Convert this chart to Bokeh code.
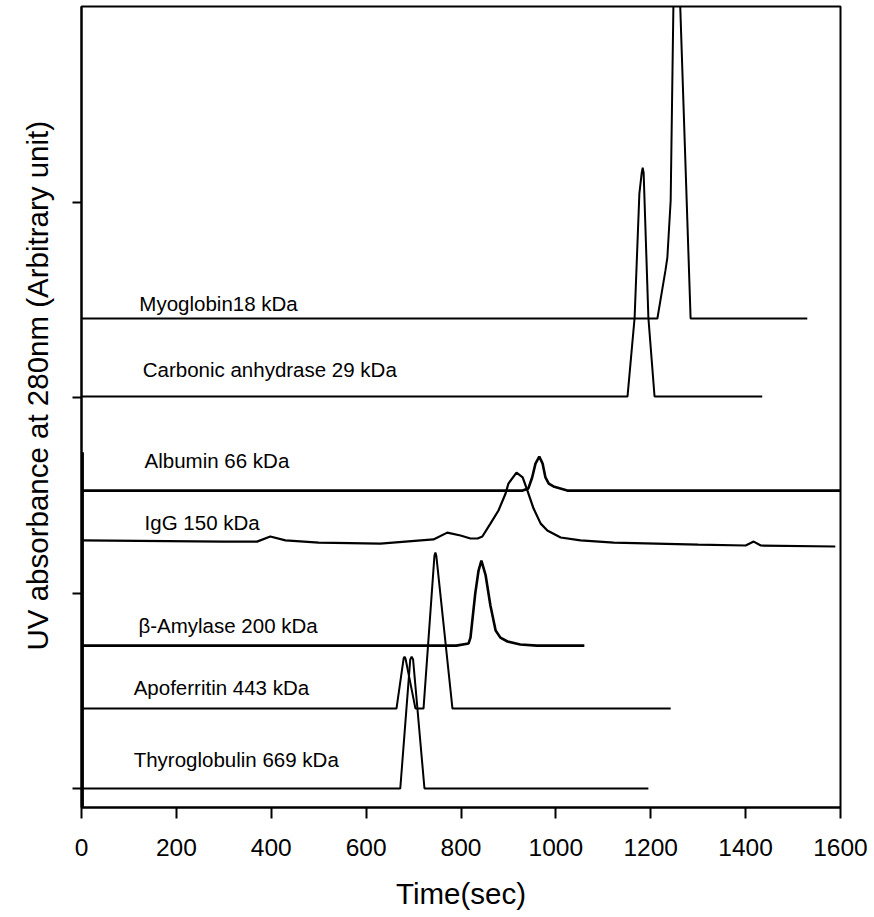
from bokeh.plotting import figure
from bokeh.models import Range1d, FixedTicker, Title
from bokeh.core.properties import value
from bokeh.embed import file_html
from bokeh.resources import INLINE

# ---- data (time in s, absorbance in arbitrary units; tick spacing = 1 unit) ----
x_ticks = [0, 200, 400, 600, 800, 1000, 1200, 1400, 1600]
y_ticks = [0, 1, 2, 3]

thyro_t = [0, 672, 693, 696, 699, 723, 1195]
thyro_a = [0.0, 0.0, 0.66, 0.675, 0.66, 0.0, 0.0]

apo_t = [0, 664, 679, 681, 683, 704, 721, 744, 746, 748, 782, 1242]
apo_a = [0.409, 0.409, 0.665, 0.675, 0.665, 0.409, 0.409, 1.19, 1.207, 1.19, 0.409, 0.409]

beta_t = [0, 790, 816, 820, 830, 837, 843, 852, 862, 873, 883, 898, 925, 960, 1060]
beta_a = [0.731, 0.731, 0.742, 0.772, 0.997, 1.115, 1.166, 1.090, 0.936, 0.808, 0.772,
          0.752, 0.737, 0.731, 0.731]

igg_t = [0, 300, 370, 398, 430, 500, 630, 742, 771, 799, 820, 835, 845, 862, 879, 894,
         900, 917, 930, 940, 953, 968, 982, 1010, 1052, 1122, 1300, 1400, 1417, 1432, 1589]
igg_a = [1.269, 1.263, 1.263, 1.289, 1.269, 1.258, 1.253, 1.274, 1.309, 1.294, 1.279,
         1.279, 1.289, 1.355, 1.422, 1.509, 1.560, 1.616, 1.591, 1.524, 1.432, 1.355,
         1.320, 1.284, 1.269, 1.258, 1.248, 1.243, 1.263, 1.243, 1.238]

alb_t = [0, 930, 942, 950, 957, 965, 972, 978, 985, 995, 1024, 1600]
alb_a = [1.524, 1.524, 1.535, 1.591, 1.662, 1.698, 1.662, 1.591, 1.560, 1.545, 1.524, 1.524]

car_t = [0, 1151, 1166, 1176, 1181, 1183, 1185, 1195, 1208, 1435]
car_a = [2.005, 2.005, 2.409, 3.043, 3.15, 3.176, 3.15, 2.409, 2.005, 2.005]

myo_t = [0, 1214, 1231, 1235, 1242, 1252, 1284, 1530]
myo_a = [2.404, 2.404, 2.650, 2.716, 3.008, 4.742, 2.404, 2.404]

inj_t = [3, 3]
inj_a = [-0.1, 1.72]

label_names = ["Myoglobin18 kDa", "Carbonic anhydrase 29 kDa", "Albumin 66 kDa",
               "IgG 150 kDa", "\u03b2-Amylase 200 kDa", "Apoferritin 443 kDa",
               "Thyroglobulin 669 kDa"]
label_t = [122, 129, 133, 133, 120, 110, 110]
label_a = [2.481, 2.143, 1.678, 1.361, 0.834, 0.517, 0.148]

FONT = "Liberation Sans"

p = figure(width=872, height=917,
           x_range=Range1d(0, 1600), y_range=Range1d(-0.097, 4.0),
           output_backend="svg", toolbar_location=None,
           min_border_left=81, min_border_right=32,
           min_border_top=6, min_border_bottom=110)
p.grid.visible = False
p.background_fill_color = "white"
p.border_fill_color = "white"
p.outline_line_color = "black"
p.outline_line_width = 2

xa = p.xaxis[0]
xa.ticker = FixedTicker(ticks=x_ticks)
xa.major_tick_out = 11
xa.major_tick_in = 0
xa.minor_tick_out = 0
xa.minor_tick_in = 0
xa.axis_line_width = 2
xa.major_tick_line_width = 2
xa.major_label_text_font = FONT
xa.major_label_text_font_size = "24.5px"
xa.major_label_text_color = "black"
xa.major_label_standoff = 20
xa.axis_label = "Time(sec)"
xa.axis_label_text_font = FONT
xa.axis_label_text_font_size = "29.5px"
xa.axis_label_text_font_style = "normal"
xa.axis_label_text_color = "black"
xa.axis_label_standoff = 18

ya = p.yaxis[0]
ya.ticker = FixedTicker(ticks=y_ticks)
ya.major_label_overrides = {t: "" for t in y_ticks}
ya.major_tick_out = 9
ya.major_tick_in = 0
ya.minor_tick_out = 0
ya.minor_tick_in = 0
ya.axis_line_width = 2
ya.major_tick_line_width = 2
ya.major_label_standoff = 0

ttl = Title(text="UV absorbance at 280nm (Arbitrary unit)", align="left", offset=157,
            text_font=FONT, text_font_size="29.5px", text_font_style="normal",
            text_color="black")
if "standoff" in Title.properties():
    ttl.standoff = 37
p.add_layout(ttl, "left")

for tx, ay, w in [(thyro_t, thyro_a, 2), (apo_t, apo_a, 2), (beta_t, beta_a, 2.6),
                  (igg_t, igg_a, 2.2), (alb_t, alb_a, 2.6), (car_t, car_a, 2),
                  (myo_t, myo_a, 2), (inj_t, inj_a, 2)]:
    p.line(tx, ay, line_color="black", line_width=w)

p.text(x=label_t, y=label_a, text=label_names, text_font=value(FONT),
       text_font_size=value("20.5px"), text_baseline="alphabetic", text_align="left",
       text_color="black")

open("out.html", "w").write(file_html(p, INLINE))
